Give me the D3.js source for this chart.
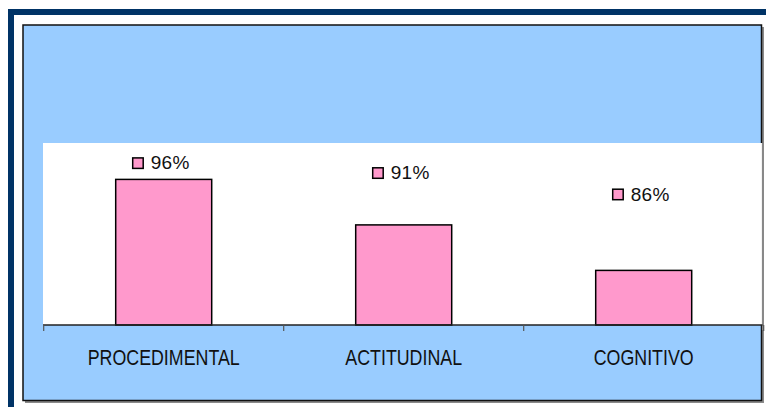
<!DOCTYPE html>
<html>
<head>
<meta charset="utf-8">
<script src="https://cdn.jsdelivr.net/npm/d3@7"></script>
<style>
  html, body { margin: 0; padding: 0; background: #ffffff; }
  svg { display: block; }
  text { font-family: "Liberation Sans", Arial, sans-serif; }
</style>
</head>
<body>
<svg id="chart" width="766" height="407"></svg>
<script>
// ---- data ----
const categories = ["PROCEDIMENTAL", "ACTITUDINAL", "COGNITIVO"];
const values = [0.96, 0.91, 0.86];
const valueLabels = ["96%", "91%", "86%"];
const yDomain = [0.8, 1.0];

// ---- layout (not data) ----
const W = 766, H = 407;
const plot = { left: 43.7, right: 763.7, top: 143, bottom: 325 };
const labelLift = [10, 45.6, 69.7]; // label baseline distance above bar top (as placed in source)

const svg = d3.select("#chart");

// outer navy frame
svg.append("rect").attr("x", 8).attr("y", 9).attr("width", W - 8).attr("height", 6).attr("fill", "#003366");
svg.append("rect").attr("x", 8).attr("y", 9).attr("width", 6).attr("height", H - 9).attr("fill", "#003366");

// chart frame shadow + fill
svg.append("rect").attr("x", 25).attr("y", 27).attr("width", 739).attr("height", 376).attr("fill", "#8a8a8a");
svg.append("rect").attr("x", 23).attr("y", 25).attr("width", 738.5).attr("height", 375.5)
  .attr("fill", "#99CCFF").attr("stroke", "#111").attr("stroke-width", 1.5);

// plot area
svg.append("rect").attr("x", 43).attr("y", plot.top).attr("width", 719.5).attr("height", plot.bottom - plot.top)
  .attr("fill", "#ffffff");
svg.append("line").attr("x1", 762.5).attr("x2", 762.5).attr("y1", plot.top).attr("y2", plot.bottom + 5)
  .attr("stroke", "#888").attr("stroke-width", 1.2);

// scales
const x = d3.scaleBand().domain(categories).range([plot.left, plot.right])
  .paddingInner(0.6).paddingOuter(0.3);
const y = d3.scaleLinear().domain(yDomain).range([plot.bottom, plot.top]);

// bars
svg.append("g").selectAll("rect").data(categories).join("rect")
  .attr("x", d => x(d))
  .attr("y", (d, i) => y(values[i]))
  .attr("width", x.bandwidth())
  .attr("height", (d, i) => y(yDomain[0]) - y(values[i]))
  .attr("fill", "#FF99CC")
  .attr("stroke", "#000")
  .attr("stroke-width", 1.5);

// category axis (ticks at category boundaries)
const edges = d3.range(categories.length + 1).map(i => plot.left + i * x.step());
const ax = svg.append("g");
ax.append("line").attr("x1", 43).attr("x2", 762.5).attr("y1", plot.bottom).attr("y2", plot.bottom)
  .attr("stroke", "#222").attr("stroke-width", 1.3);
ax.selectAll("line.tick").data(edges).join("line").attr("class", "tick")
  .attr("x1", d => d).attr("x2", d => d)
  .attr("y1", plot.bottom).attr("y2", plot.bottom + 6)
  .attr("stroke", "#555").attr("stroke-width", 1.2);

ax.selectAll("text.cat").data(categories).join("text").attr("class", "cat")
  .attr("transform", d => `translate(${x(d) + x.bandwidth() / 2},364.5) scale(0.81,1)`)
  .attr("text-anchor", "middle")
  .attr("font-size", 22)
  .attr("fill", "#111")
  .text(d => d);

// value labels with legend key
const lab = svg.append("g").selectAll("g").data(categories).join("g")
  .attr("transform", (d, i) => `translate(${x(d) + x.bandwidth() / 2},${y(values[i]) - labelLift[i]})`);
lab.append("rect").attr("x", -31).attr("y", -11.5).attr("width", 10.5).attr("height", 10.5)
  .attr("fill", "#FF99CC").attr("stroke", "#000").attr("stroke-width", 1.5);
lab.append("text").attr("x", -13).attr("y", 0)
  .attr("font-size", 19).attr("letter-spacing", 0.3).attr("fill", "#111")
  .text((d, i) => valueLabels[i]);
</script>
</body>
</html>
